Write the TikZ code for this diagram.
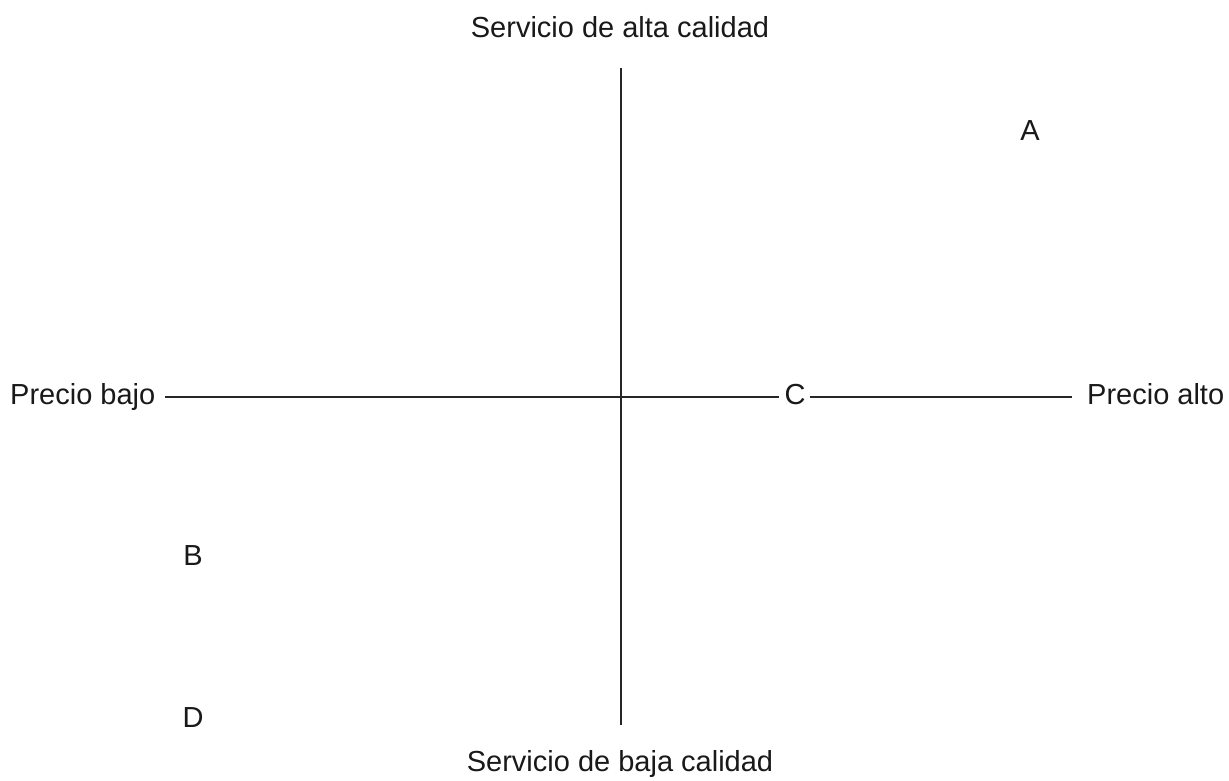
\documentclass[tikz,border=0pt]{standalone}
\usepackage{fontspec}
\setmainfont{Liberation Sans}
\begin{document}
\begin{tikzpicture}[x=1pt,y=-1pt,
  lbl/.style={font=\fontsize{29}{35}\selectfont, inner sep=0pt, text=black!90},
  axis/.style={draw=black!85, line width=2.2pt}]
\useasboundingbox[fill=white] (0,0) rectangle (1229,780);
\node[lbl,anchor=base] (top) at (620,37) {Servicio de alta calidad};
\node[lbl,anchor=base] (bot) at (620,771) {Servicio de baja calidad};
\node[lbl,anchor=base west] (pb) at (10,404) {Precio bajo};
\node[lbl,anchor=base west] (pa) at (1087,404) {Precio alto};
\node[lbl,anchor=base] (C) at (795,404) {C};
\node[lbl,anchor=base] (A) at (1030,140) {A};
\node[lbl,anchor=base] (B) at (193,565) {B};
\node[lbl,anchor=base] (D) at (193,727) {D};
\coordinate (hy) at (0,397);
\coordinate (vt) at (621,68);
\coordinate (vb) at (621,725);
\draw[axis] (vt) -- (vb);
\draw[axis] ([xshift=10pt]pb.east |- hy) -- ([xshift=-5pt]C.west |- hy);
\draw[axis] ([xshift=4pt]C.east |- hy) -- ([xshift=-15pt]pa.west |- hy);
\end{tikzpicture}
\end{document}
